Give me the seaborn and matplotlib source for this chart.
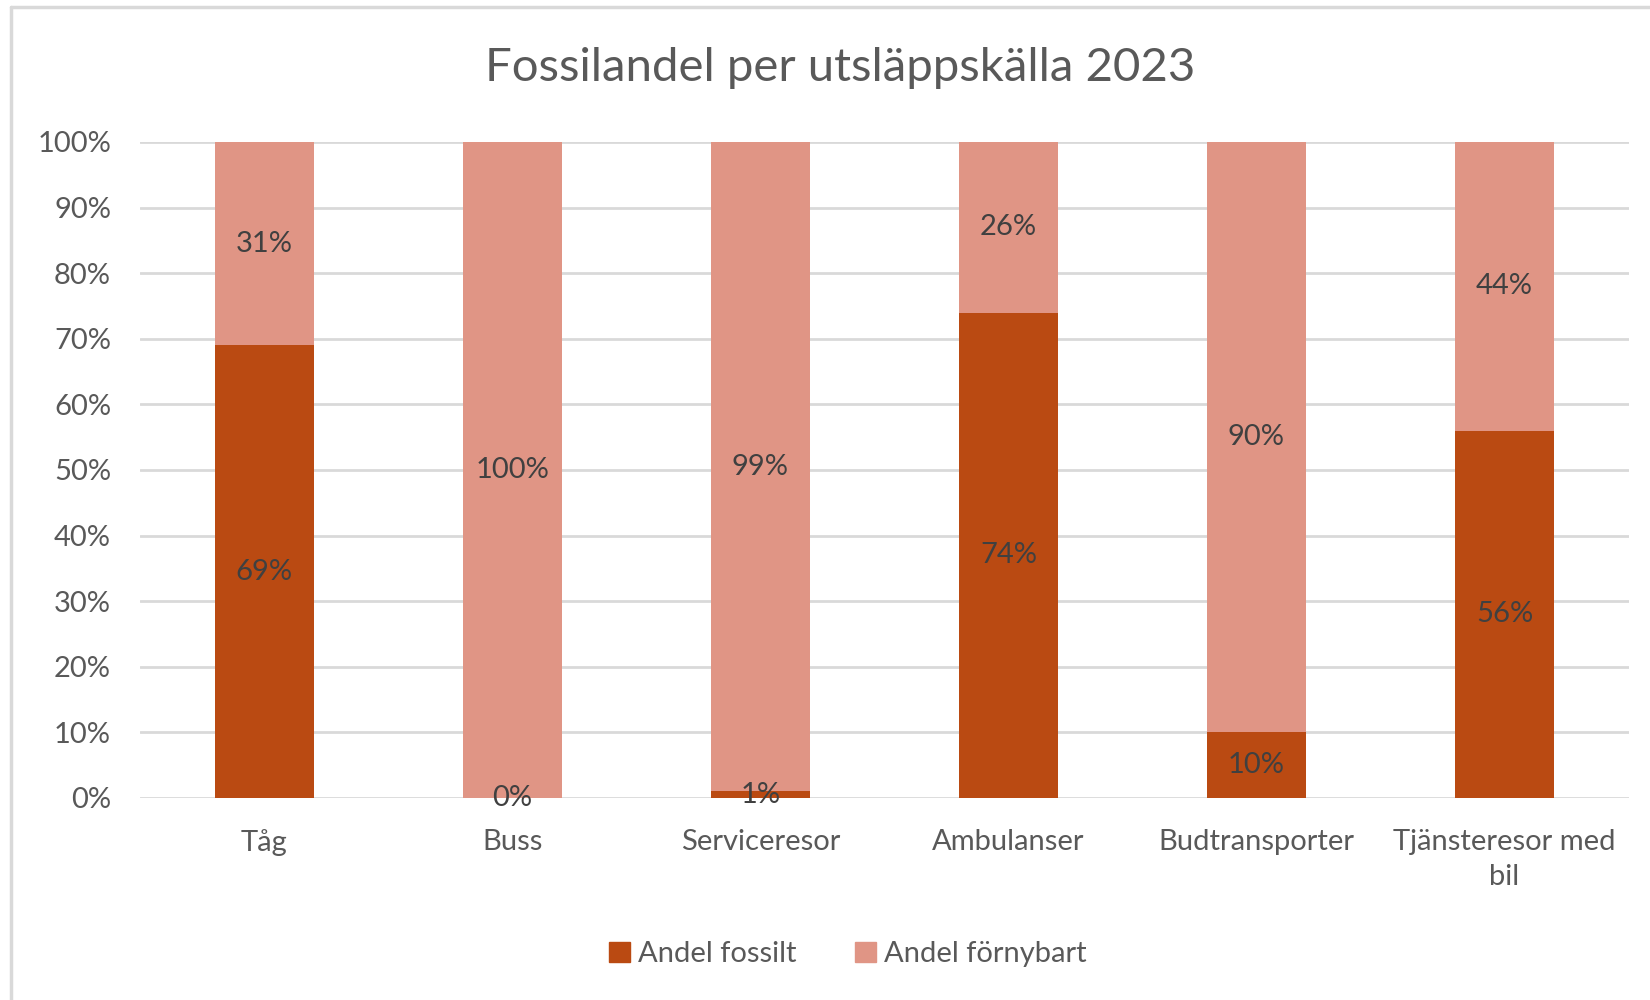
import matplotlib
matplotlib.use('Agg')
import matplotlib.pyplot as plt
import seaborn as sns
import pandas as pd
from matplotlib.ticker import PercentFormatter

# Data
kategorier = ['Tåg', 'Buss', 'Serviceresor', 'Ambulanser', 'Budtransporter', 'Tjänsteresor med\nbil']
andel_fossilt = [69, 0, 1, 74, 10, 56]
andel_fornybart = [31, 100, 99, 26, 90, 44]

farg_fossil = '#BA4A12'
farg_fornybar = '#E09585'
textfarg = '#595959'

sns.set_style('white')
plt.rcParams['font.family'] = ['Lato', 'DejaVu Sans']

df = pd.DataFrame({'kategori': kategorier, 'fossilt': andel_fossilt, 'fornybart': andel_fornybart})
df['total'] = df['fossilt'] + df['fornybart']

fig = plt.figure(figsize=(16.5, 10), dpi=100)
ax = fig.add_axes([0.085, 0.202, 0.902, 0.656])

# Staplade staplar: total först, sedan fossilt ovanpå
sns.barplot(data=df, x='kategori', y='total', color=farg_fornybar, width=0.4,
            saturation=1, linewidth=0, ax=ax, zorder=2)
sns.barplot(data=df, x='kategori', y='fossilt', color=farg_fossil, width=0.4,
            saturation=1, linewidth=0, ax=ax, zorder=3)

ax.set_ylim(0, 100)
ax.set_yticks(range(0, 101, 10))
ax.yaxis.set_major_formatter(PercentFormatter(decimals=0))
ax.grid(axis='y', color='#D9D9D9', linewidth=2, zorder=0)
ax.set_axisbelow(True)
for s in ax.spines.values():
    s.set_visible(False)
ax.set_xlabel('')
ax.set_ylabel('')
ax.tick_params(axis='both', length=0, labelsize=21, colors=textfarg)
ax.tick_params(axis='y', pad=21)
ax.tick_params(axis='x', pad=22)
for lbl in ax.get_xticklabels():
    lbl.set_linespacing(1.45)
ax.set_xlim(-0.5, len(kategorier) - 0.5)

# Etiketter
for i, (f, r) in enumerate(zip(andel_fossilt, andel_fornybart)):
    ax.text(i, f / 2, f'{f}%', ha='center', va='center', fontsize=21, color='#404040', zorder=5)
    ax.text(i, f + r / 2, f'{r}%', ha='center', va='center', fontsize=21, color='#404040', zorder=5)

fig.text(0.509, 0.932, 'Fossilandel per utsläppskälla 2023', ha='center', va='center',
         fontsize=34, color=textfarg)

# Förklaring
handles = [plt.Rectangle((0, 0), 1, 1, color=farg_fossil),
           plt.Rectangle((0, 0), 1, 1, color=farg_fornybar)]
fig.legend(handles, ['Andel fossilt', 'Andel förnybart'], loc='center',
           bbox_to_anchor=(0.514, 0.046), ncol=2, frameon=False, fontsize=21,
           handlelength=0.7, handleheight=0.7, handletextpad=0.3, columnspacing=2.0,
           labelcolor=textfarg)

# Diagramram (vänster och överkant)
fig.add_artist(plt.Line2D([0.0065, 0.0065], [0, 0.993], color='#D9D9D9', linewidth=2.5,
                          transform=fig.transFigure))
fig.add_artist(plt.Line2D([0.0065, 1], [0.993, 0.993], color='#D9D9D9', linewidth=2.5,
                          transform=fig.transFigure))

fig.savefig('out.png', dpi=100, facecolor='white')
